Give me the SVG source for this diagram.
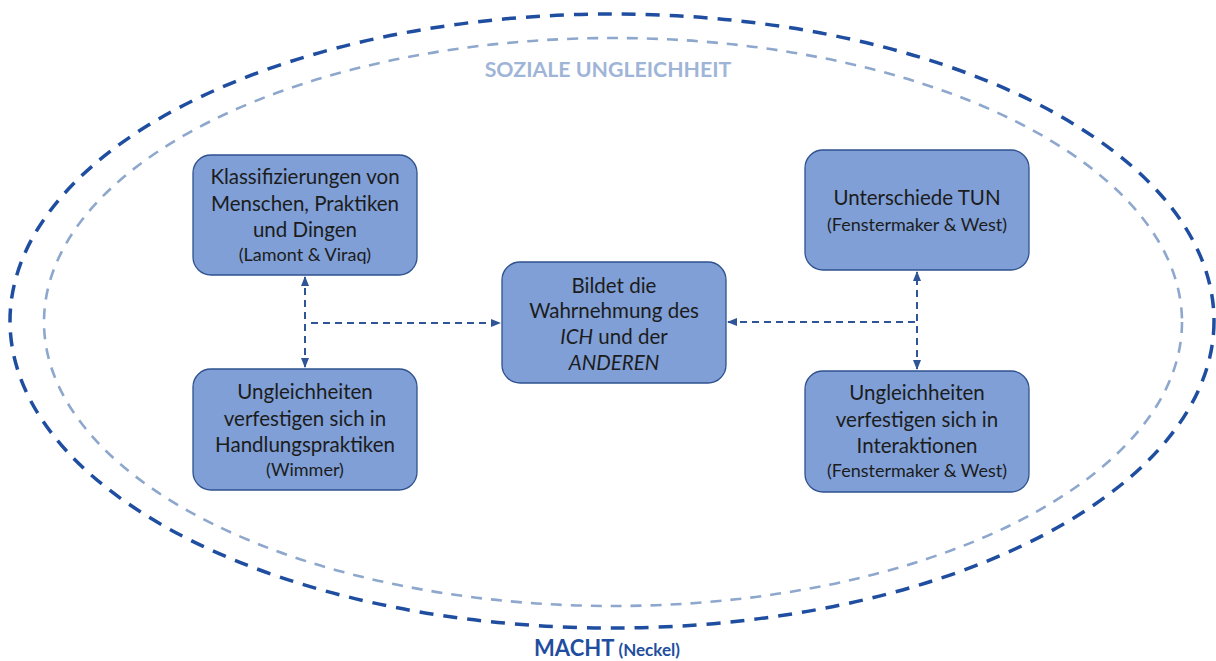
<svg xmlns="http://www.w3.org/2000/svg" width="1216" height="661" viewBox="0 0 1216 661">
  <defs>
    <marker id="arrow" viewBox="0 0 10 10" refX="9" refY="5" markerWidth="10" markerHeight="10" markerUnits="userSpaceOnUse" orient="auto-start-reverse">
      <path d="M0,1 L10,5 L0,9 Z" fill="#2f5597"/>
    </marker>
    <style>
      .box { fill: #7f9fd6; stroke: #2f528f; stroke-width: 1.3; }
      .t { font-family: Lato, "Open Sans", sans-serif; font-size: 20.5px; fill: #1c1c1c; text-anchor: middle; }
      .s { font-size: 18px; }
      .link { fill: none; stroke: #2f5597; stroke-width: 2; stroke-dasharray: 7 5; }
    </style>
  </defs>
  <rect width="1216" height="661" fill="#ffffff"/>

  <!-- outer ring: power -->
  <ellipse id="macht-ring" cx="612" cy="321" rx="602" ry="307" fill="none" stroke="#1f4ea0" stroke-width="3.5" stroke-dasharray="14 10"/>
  <!-- inner ring: social inequality -->
  <ellipse id="ungleichheit-ring" cx="613" cy="322" rx="569" ry="284" fill="none" stroke="#8ea7cd" stroke-width="2.6" stroke-dasharray="11 9"/>

  <text x="608" y="77" font-family="Lato, 'Open Sans', sans-serif" font-size="21.3" font-weight="bold" fill="#9fb5d8" text-anchor="middle">SOZIALE UNGLEICHHEIT</text>
  <text x="607" y="656" font-family="Lato, 'Open Sans', sans-serif" font-weight="bold" fill="#1f4ea0" text-anchor="middle"><tspan font-size="22">MACHT</tspan><tspan font-size="17"> (Neckel)</tspan></text>

  <!-- connectors -->
  <g id="connectors">
    <line class="link" x1="305" y1="367" x2="305" y2="277" marker-start="url(#arrow)" marker-end="url(#arrow)"/>
    <line class="link" x1="311" y1="323" x2="500" y2="323" marker-end="url(#arrow)"/>
    <line class="link" x1="917" y1="369" x2="917" y2="272" marker-start="url(#arrow)" marker-end="url(#arrow)"/>
    <line class="link" x1="915" y1="322" x2="728" y2="322" marker-end="url(#arrow)"/>
  </g>

  <g id="klassifizierungen">
    <rect class="box" x="193" y="155" width="224" height="120" rx="18"/>
    <text class="t" x="305" y="184">Klassifizierungen von</text>
    <text class="t" x="305" y="211">Menschen, Praktiken</text>
    <text class="t" x="305" y="237">und Dingen</text>
    <text class="t s" x="305" y="261">(Lamont &amp; Viraq)</text>
  </g>

  <g id="wahrnehmung">
    <rect class="box" x="502" y="262" width="224" height="121" rx="18"/>
    <text class="t" x="614" y="293">Bildet die</text>
    <text class="t" x="614" y="318">Wahrnehmung des</text>
    <text class="t" x="614" y="344"><tspan font-style="italic">ICH</tspan> und der</text>
    <text class="t" x="614" y="370" font-style="italic">ANDEREN</text>
  </g>

  <g id="unterschiede-tun">
    <rect class="box" x="805" y="150" width="224" height="120" rx="18"/>
    <text class="t" x="917" y="205">Unterschiede TUN</text>
    <text class="t s" x="917" y="231">(Fenstermaker &amp; West)</text>
  </g>

  <g id="handlungspraktiken">
    <rect class="box" x="193" y="369" width="224" height="121" rx="18"/>
    <text class="t" x="305" y="399">Ungleichheiten</text>
    <text class="t" x="305" y="426">verfestigen sich in</text>
    <text class="t" x="305" y="452">Handlungspraktiken</text>
    <text class="t s" x="305" y="476">(Wimmer)</text>
  </g>

  <g id="interaktionen">
    <rect class="box" x="805" y="371" width="224" height="121" rx="18"/>
    <text class="t" x="917" y="400">Ungleichheiten</text>
    <text class="t" x="917" y="427">verfestigen sich in</text>
    <text class="t" x="917" y="453">Interaktionen</text>
    <text class="t s" x="917" y="477">(Fenstermaker &amp; West)</text>
  </g>
</svg>
